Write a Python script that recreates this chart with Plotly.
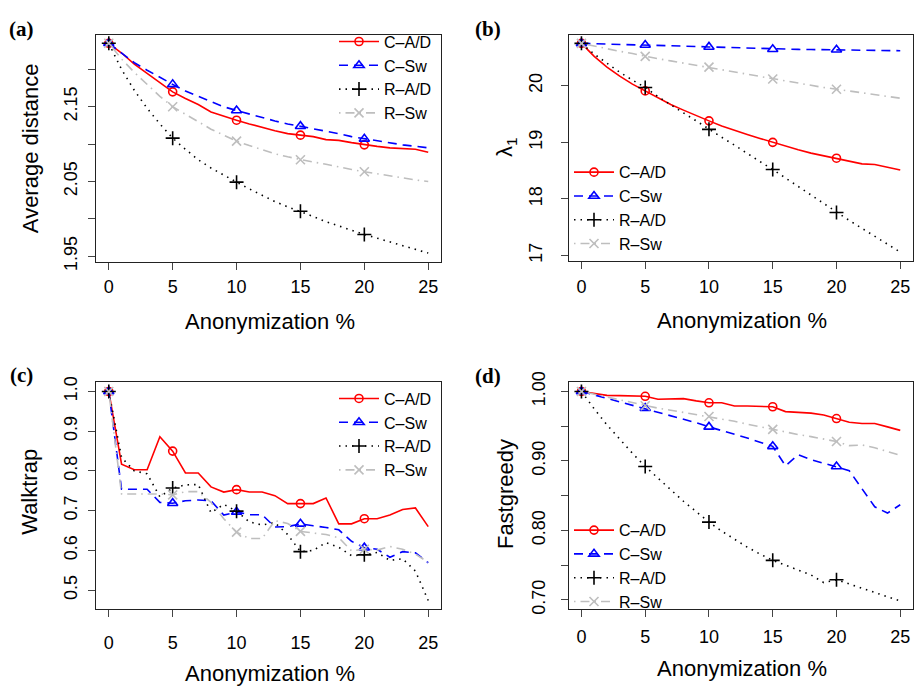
import plotly.graph_objects as go

W, H = 917, 698

# ---------------- data ----------------
anonymization_pct = list(range(26))
marker_pct = [0, 5, 10, 15, 20]
series_names = ["C–A/D", "C–Sw", "R–A/D", "R–Sw"]

# (a) Average distance
avgdist_c_ad = [2.235, 2.222, 2.207, 2.195, 2.183, 2.170, 2.161, 2.153, 2.143, 2.137, 2.132, 2.127, 2.122,
                2.118, 2.114, 2.112, 2.110, 2.106, 2.105, 2.102, 2.099, 2.097, 2.095, 2.094, 2.093, 2.089]
avgdist_c_sw = [2.235, 2.222, 2.209, 2.199, 2.189, 2.180, 2.171, 2.164, 2.157, 2.150, 2.145, 2.140, 2.135,
                2.131, 2.127, 2.124, 2.121, 2.118, 2.114, 2.110, 2.107, 2.104, 2.101, 2.099, 2.097, 2.095]
avgdist_r_ad = [2.235, 2.200, 2.172, 2.148, 2.127, 2.108, 2.093, 2.079, 2.068, 2.058, 2.049, 2.040, 2.031,
                2.023, 2.016, 2.010, 2.003, 1.996, 1.990, 1.985, 1.979, 1.974, 1.969, 1.964, 1.959, 1.954]
avgdist_r_sw = [2.235, 2.214, 2.196, 2.180, 2.164, 2.150, 2.140, 2.130, 2.120, 2.112, 2.104, 2.098, 2.092,
                2.087, 2.083, 2.079, 2.076, 2.073, 2.069, 2.066, 2.063, 2.060, 2.057, 2.055, 2.052, 2.050]

# (b) lambda_1
lambda_c_ad = [20.75, 20.52, 20.33, 20.17, 20.03, 19.91, 19.78, 19.67, 19.57, 19.47, 19.38, 19.29, 19.21,
               19.14, 19.07, 19.00, 18.93, 18.87, 18.81, 18.76, 18.72, 18.66, 18.62, 18.61, 18.56, 18.51]
lambda_c_sw = [20.75, 20.745, 20.74, 20.735, 20.725, 20.72, 20.715, 20.71, 20.70, 20.695, 20.687, 20.68, 20.675,
               20.665, 20.655, 20.647, 20.645, 20.643, 20.641, 20.639, 20.636, 20.633, 20.63, 20.627, 20.623, 20.62]
lambda_r_ad = [20.75, 20.56, 20.40, 20.24, 20.10, 19.97, 19.81, 19.66, 19.52, 19.38, 19.23, 19.09, 18.95,
               18.80, 18.66, 18.52, 18.37, 18.21, 18.06, 17.91, 17.76, 17.62, 17.48, 17.34, 17.20, 17.06]
lambda_r_sw = [20.75, 20.70, 20.66, 20.61, 20.57, 20.52, 20.48, 20.44, 20.40, 20.37, 20.33, 20.29, 20.24,
               20.20, 20.16, 20.12, 20.08, 20.04, 20.01, 19.97, 19.94, 19.91, 19.87, 19.84, 19.81, 19.78]

# (c) Walktrap
walktrap_c_ad = [1.0, 0.817, 0.803, 0.803, 0.886, 0.850, 0.795, 0.795, 0.760, 0.747, 0.753, 0.747, 0.747,
                 0.738, 0.718, 0.718, 0.718, 0.732, 0.667, 0.667, 0.680, 0.680, 0.689, 0.703, 0.707, 0.660]
walktrap_c_sw = [1.0, 0.754, 0.754, 0.754, 0.721, 0.719, 0.725, 0.727, 0.725, 0.689, 0.697, 0.690, 0.690,
                 0.659, 0.660, 0.667, 0.662, 0.658, 0.652, 0.623, 0.607, 0.603, 0.583, 0.597, 0.594, 0.569]
walktrap_r_ad = [1.0, 0.834, 0.800, 0.793, 0.735, 0.757, 0.765, 0.766, 0.695, 0.716, 0.699, 0.672, 0.664,
                 0.670, 0.640, 0.597, 0.600, 0.620, 0.608, 0.587, 0.589, 0.595, 0.575, 0.579, 0.548, 0.474]
walktrap_r_sw = [1.0, 0.742, 0.742, 0.742, 0.742, 0.740, 0.748, 0.748, 0.721, 0.680, 0.646, 0.630, 0.630,
                 0.675, 0.668, 0.648, 0.644, 0.640, 0.632, 0.599, 0.603, 0.601, 0.610, 0.603, 0.591, 0.570]

# (d) Fastgreedy
fastgreedy_c_ad = [1.0, 0.9967, 0.9944, 0.994, 0.9935, 0.993, 0.9888, 0.9897, 0.9897, 0.9865, 0.9837, 0.9837, 0.979,
                   0.979, 0.979, 0.978, 0.971, 0.970, 0.9688, 0.966, 0.961, 0.9557, 0.954, 0.954, 0.949, 0.944]
fastgreedy_c_sw = [1.0, 0.995, 0.990, 0.985, 0.980, 0.976, 0.970, 0.965, 0.960, 0.955, 0.949, 0.944, 0.938,
                   0.933, 0.927, 0.921, 0.893, 0.909, 0.902, 0.897, 0.892, 0.886, 0.860, 0.834, 0.825, 0.837]
fastgreedy_r_ad = [1.0, 0.975, 0.952, 0.931, 0.911, 0.892, 0.875, 0.858, 0.842, 0.827, 0.812, 0.799, 0.787,
                   0.776, 0.766, 0.757, 0.750, 0.743, 0.736, 0.725, 0.729, 0.723, 0.717, 0.711, 0.705, 0.6985]
fastgreedy_r_sw = [1.0, 0.996, 0.992, 0.988, 0.984, 0.9795, 0.976, 0.973, 0.970, 0.967, 0.964, 0.960, 0.957,
                   0.953, 0.949, 0.9455, 0.942, 0.938, 0.935, 0.931, 0.928, 0.922, 0.923, 0.919, 0.914, 0.908]

panels = [
    dict(series=[avgdist_c_ad, avgdist_c_sw, avgdist_r_ad, avgdist_r_sw], ytitle="Average distance",
         yrange=[1.9426, 2.2464], ytickvals=[1.95, 2.00, 2.05, 2.10, 2.15, 2.20],
         yticktext=["1.95", " ", "2.05", " ", "2.15", " "], label="(a)"),
    dict(series=[lambda_c_ad, lambda_c_sw, lambda_r_ad, lambda_r_sw], ytitle="λ<sub>1</sub>",
         yrange=[16.897, 20.905], ytickvals=[17, 18, 19, 20],
         yticktext=["17", "18", "19", "20"], label="(b)"),
    dict(series=[walktrap_c_ad, walktrap_c_sw, walktrap_r_ad, walktrap_r_sw], ytitle="Walktrap",
         yrange=[0.4526, 1.023], ytickvals=[0.5, 0.6, 0.7, 0.8, 0.9, 1.0],
         yticktext=["0.5", "0.6", "0.7", "0.8", "0.9", "1.0"], label="(c)"),
    dict(series=[fastgreedy_c_ad, fastgreedy_c_sw, fastgreedy_r_ad, fastgreedy_r_sw], ytitle="Fastgreedy",
         yrange=[0.6869, 1.0131], ytickvals=[0.70, 0.75, 0.80, 0.85, 0.90, 0.95, 1.00],
         yticktext=["0.70", " ", "0.80", " ", "0.90", " ", "1.00"], label="(d)"),
]

# ---------------- styles / layout geometry (pixels) ----------------
FONT = "Liberation Sans, Arial, Helvetica, sans-serif"
styles = [
    dict(color="#FF0000", dash="solid", symbol="circle-open", size=8),
    dict(color="#0000FF", dash="9px,6px", symbol="triangle-up-open", size=9),
    dict(color="#000000", dash="1.5px,5px", symbol="cross-thin-open", size=10),
    dict(color="#BEBEBE", dash="1.5px,5px,9px,5px", symbol="x-thin-open", size=9),
]
boxes = [  # left, right, top, bottom in px
    (96, 441, 24.5, 258),
    (568.7, 913, 24.3, 257.7),
    (96, 441, 382.3, 615.7),
    (568.7, 913, 382.3, 615.7),
]
legend_pos = [(334, 14), (569, 148.5), (334, 381.5), (569, 517)]
ytitle_pos = [(30.7, 141.5), (506, 140), (30, 495), (505.3, 497)]
xtitle_pos = [(270, 320), (742, 318.3), (270, 682.3), (742, 677.3)]
label_pos = [(21, 19), (488, 19), (21, 375), (488, 376)]
xstandoff = [2, 2, 10, 4]
ystandoff = [4, 12, 4, 9]


def px(v):
    return v / W


def py(v):
    return 1 - v / H


fig = go.Figure()
layout = dict(width=W, height=H, margin=dict(l=0, r=0, t=0, b=0),
              paper_bgcolor="white", plot_bgcolor="white", showlegend=True,
              font=dict(family=FONT, color="black"))
annotations = []

for i, p in enumerate(panels):
    n = "" if i == 0 else str(i + 1)
    xa, ya = "x" + n, "y" + n
    leg = "legend" if i == 0 else "legend" + n
    for j, (name, yvals) in enumerate(zip(series_names, p["series"])):
        s = styles[j]
        fig.add_trace(go.Scatter(x=anonymization_pct, y=yvals, mode="lines", xaxis=xa, yaxis=ya,
                                 line=dict(color=s["color"], dash=s["dash"], width=1.6),
                                 showlegend=False, hoverinfo="skip"))
        fig.add_trace(go.Scatter(x=marker_pct, y=[yvals[k] for k in marker_pct], mode="markers",
                                 xaxis=xa, yaxis=ya,
                                 marker=dict(symbol=s["symbol"], size=s["size"], color=s["color"],
                                             line=dict(color=s["color"], width=1.6)),
                                 showlegend=False))
        fig.add_trace(go.Scatter(x=[None], y=[None], mode="lines+markers", name=name, legend=leg,
                                 xaxis=xa, yaxis=ya,
                                 line=dict(color=s["color"], dash=s["dash"], width=1.6),
                                 marker=dict(symbol=s["symbol"], size=s["size"], color=s["color"],
                                             line=dict(color=s["color"], width=1.6))))
    l, r, t, b = boxes[i]
    layout["xaxis" + n] = dict(domain=[px(l), px(r)], range=[-1, 26], anchor=ya,
                               tickvals=[0, 5, 10, 15, 20, 25], ticks="outside", ticklen=7,
                               tickwidth=1, tickcolor="#444", showline=True, mirror=True,
                               linecolor="#222", linewidth=1, showgrid=False, zeroline=False,
                               ticklabelposition="outside", ticklabelstandoff=xstandoff[i],
                               tickfont=dict(size=18, family=FONT, color="black"))
    layout["yaxis" + n] = dict(domain=[py(b), py(t)], range=p["yrange"], anchor=xa,
                               tickvals=p["ytickvals"], ticktext=p["yticktext"], tickangle=-90,
                               ticks="outside", ticklen=7, tickwidth=1, tickcolor="#444",
                               showline=True, mirror=True, linecolor="#222", linewidth=1,
                               showgrid=False, zeroline=False, ticklabelposition="outside",
                               ticklabelstandoff=ystandoff[i],
                               tickfont=dict(size=18, family=FONT, color="black"))
    lx, ly = legend_pos[i]
    layout[leg] = dict(x=px(lx), y=py(ly), xanchor="left", yanchor="top", itemwidth=40,
                       bgcolor="rgba(0,0,0,0)", borderwidth=0, tracegroupgap=0,
                       font=dict(size=16, family=FONT, color="black"))
    tx, ty = ytitle_pos[i]
    annotations.append(dict(text=p["ytitle"], x=px(tx), y=py(ty), xref="paper", yref="paper",
                            showarrow=False, textangle=-90, xanchor="center", yanchor="middle",
                            font=dict(size=22, family=FONT, color="black")))
    tx, ty = xtitle_pos[i]
    annotations.append(dict(text="Anonymization %", x=px(tx), y=py(ty), xref="paper", yref="paper",
                            showarrow=False, xanchor="center", yanchor="middle",
                            font=dict(size=22, family=FONT, color="black")))
    tx, ty = label_pos[i]
    annotations.append(dict(text="<b>" + p["label"] + "</b>", x=px(tx), y=py(ty), xref="paper",
                            yref="paper", showarrow=False, xanchor="center", yanchor="middle",
                            font=dict(size=21, family="Liberation Serif, Times New Roman, serif",
                                      color="black")))

layout["annotations"] = annotations
fig.update_layout(**layout)
fig.write_html("out.html")
